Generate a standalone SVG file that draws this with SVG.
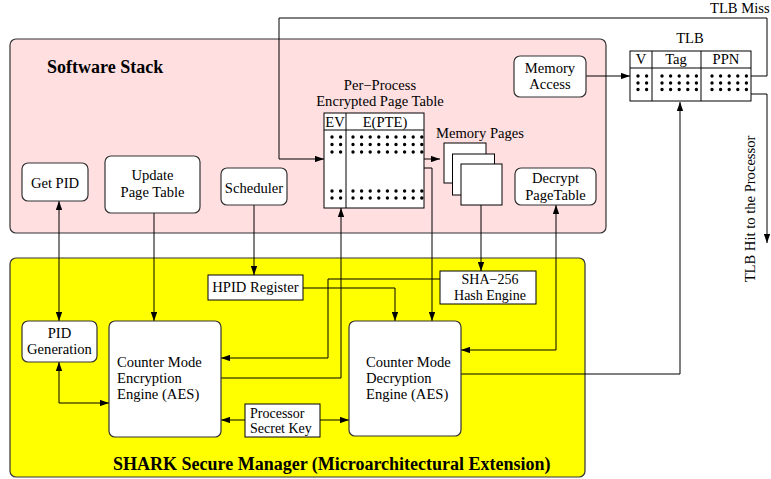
<svg xmlns="http://www.w3.org/2000/svg" width="771" height="479" viewBox="0 0 771 479">
  <style>
    text { font-family: "Liberation Serif", "Times New Roman", serif; font-size: 14.6px; fill: #000; }
    .c { text-anchor: middle; }
    .sm { font-size: 14px; }
    .title { font-weight: bold; font-size: 18px; }
    .box { fill: #fff; stroke: #333; stroke-width: 1.2; }
    .plain { fill: #fff; stroke: #000; stroke-width: 1; }
    .wire { fill: none; stroke: #000; stroke-width: 1; }
    .dots { stroke: #000; stroke-width: 3.4; stroke-linecap: round; stroke-dasharray: 0 8.6; fill: none; }
  </style>
  <defs>
    <marker id="arrow" viewBox="0 0 10 7" refX="10" refY="3.5" markerWidth="9" markerHeight="6.3" markerUnits="userSpaceOnUse" orient="auto-start-reverse">
      <path d="M0,0 L10,3.5 L0,7 z" fill="#000"/>
    </marker>
  </defs>

  <!-- region backgrounds -->
  <g id="software-stack">
    <rect x="10" y="39" width="596" height="194" rx="6" fill="#ffdfe0" stroke="#333" stroke-width="1.2"/>
    <text class="title" x="47" y="73">Software Stack</text>
  </g>
  <g id="shark-manager">
    <rect x="10" y="258" width="575" height="219" rx="6" fill="#ffff00" stroke="#333" stroke-width="1.2"/>
    <text class="title" x="113" y="470">SHARK Secure Manager (Microarchitectural Extension)</text>
  </g>

  <!-- connectors -->
  <g id="connectors">
    <path class="wire" d="M59,201 V321" marker-start="url(#arrow)" marker-end="url(#arrow)"/>
    <path class="wire" d="M59,362 V403 H109" marker-start="url(#arrow)" marker-end="url(#arrow)"/>
    <path class="wire" d="M154,213 V321" marker-end="url(#arrow)"/>
    <path class="wire" d="M254,205 V275" marker-end="url(#arrow)"/>
    <path class="wire" d="M303,288 H395 V321" marker-end="url(#arrow)"/>
    <path class="wire" d="M221,378 H341 V208" marker-end="url(#arrow)"/>
    <path class="wire" d="M440,279 H328 V358 H221" marker-end="url(#arrow)"/>
    <path class="wire" d="M403,168 H432 V321" marker-end="url(#arrow)"/>
    <path class="wire" d="M412,159 H440" marker-end="url(#arrow)"/>
    <path class="wire" d="M481,205 V271" marker-end="url(#arrow)"/>
    <path class="wire" d="M461,350 H556 V205" marker-start="url(#arrow)" marker-end="url(#arrow)"/>
    <path class="wire" d="M461,374 H680 V102" marker-end="url(#arrow)"/>
    <path class="wire" d="M586,76 H630" marker-end="url(#arrow)"/>
    <path class="wire" d="M751,76 H767 V18 H279 V159 H324" marker-end="url(#arrow)"/>
    <path class="wire" d="M751,94 H767 V243" marker-end="url(#arrow)"/>
    <path class="wire" d="M245,420 H221" marker-end="url(#arrow)"/>
    <path class="wire" d="M320,420 H349" marker-end="url(#arrow)"/>
    <text x="710" y="13">TLB Miss</text>
    <text class="c" transform="translate(755,209) rotate(-90)" font-size="15.5">TLB Hit to the Processor</text>
  </g>

  <!-- software stack nodes -->
  <g id="get-pid">
    <rect class="box" x="22" y="163" width="66" height="38" rx="6"/>
    <text class="c" x="55" y="188">Get PID</text>
  </g>
  <g id="update-page-table">
    <rect class="box" x="105" y="156" width="95" height="57" rx="6"/>
    <text class="c" x="152.5" y="180">Update</text>
    <text class="c" x="152.5" y="197">Page Table</text>
  </g>
  <g id="scheduler">
    <rect class="box" x="221" y="168" width="66" height="37" rx="6"/>
    <text class="c" x="254" y="193">Scheduler</text>
  </g>
  <g id="page-table">
    <text class="c" x="380" y="89.5">Per−Process</text>
    <text class="c" x="380" y="106">Encrypted Page Table</text>
    <rect class="plain" x="324" y="113" width="100" height="95"/>
    <path class="wire" d="M324,130 H424 M346,113 V208"/>
    <text class="c" x="335" y="127">EV</text>
    <text class="c" x="385" y="127">E(PTE)</text>
    <path class="dots" d="M332,137 H341 M332,144.5 H341 M332,152 H341 M332,191 H341 M332,198 H341"/>
    <path class="dots" d="M353,137 H423 M353,144.5 H423 M353,152 H423 M353,191 H423 M353,198 H423"/>
  </g>
  <g id="memory-pages">
    <text class="c" x="480" y="138">Memory Pages</text>
    <rect class="plain" x="444" y="143" width="42" height="40"/>
    <rect class="plain" x="452.5" y="154" width="42" height="41"/>
    <rect class="plain" x="461" y="164" width="41" height="41"/>
  </g>
  <g id="decrypt-page-table">
    <rect class="box" x="515" y="168" width="81" height="37" rx="6"/>
    <text class="c" x="555.5" y="183">Decrypt</text>
    <text class="c" x="555.5" y="200">PageTable</text>
  </g>
  <g id="memory-access">
    <rect class="box" x="514" y="56" width="72" height="41" rx="6"/>
    <text class="c" x="550" y="73">Memory</text>
    <text class="c" x="550" y="89">Access</text>
  </g>
  <g id="tlb">
    <text class="c" x="690" y="43">TLB</text>
    <rect class="plain" x="630" y="51" width="121" height="50"/>
    <path class="wire" d="M630,68 H751 M652,51 V101 M701,51 V101"/>
    <text class="c" x="641" y="64">V</text>
    <text class="c" x="676" y="64">Tag</text>
    <text class="c" x="726" y="64">PPN</text>
    <path class="dots" d="M638,76 H647 M638,83 H647 M638,89.5 H647" stroke-dasharray="0 8"/>
    <path class="dots" d="M662,76 H700 M662,83 H700 M662,89.5 H700" stroke-dasharray="0 9.3"/>
    <path class="dots" d="M712,76 H749 M712,83 H749 M712,89.5 H749" stroke-dasharray="0 9"/>
  </g>

  <!-- secure manager nodes -->
  <g id="hpid-register">
    <rect class="plain" x="208" y="275" width="95" height="25"/>
    <text class="c" x="255.5" y="292">HPID Register</text>
  </g>
  <g id="sha-256">
    <rect class="plain" x="440" y="271" width="96" height="33"/>
    <text class="c sm" x="490" y="284">SHA−256</text>
    <text class="c sm" x="490" y="299.5">Hash Engine</text>
  </g>
  <g id="pid-generation">
    <rect class="box" x="22" y="321" width="75" height="41" rx="6"/>
    <text class="c" x="59.5" y="338">PID</text>
    <text class="c" x="59.5" y="354">Generation</text>
  </g>
  <g id="encryption-engine">
    <rect class="box" x="109" y="321" width="112" height="116" rx="6"/>
    <text x="117" y="367">Counter Mode</text>
    <text x="117" y="383">Encryption</text>
    <text x="117" y="399">Engine (AES)</text>
  </g>
  <g id="decryption-engine">
    <rect class="box" x="349" y="321" width="112" height="115" rx="6"/>
    <text x="366" y="367">Counter Mode</text>
    <text x="366" y="383">Decryption</text>
    <text x="366" y="399">Engine (AES)</text>
  </g>
  <g id="processor-secret-key">
    <rect class="plain" x="245" y="404" width="75" height="33"/>
    <text class="sm" x="250" y="417.5">Processor</text>
    <text class="sm" x="250" y="433">Secret Key</text>
  </g>
</svg>
